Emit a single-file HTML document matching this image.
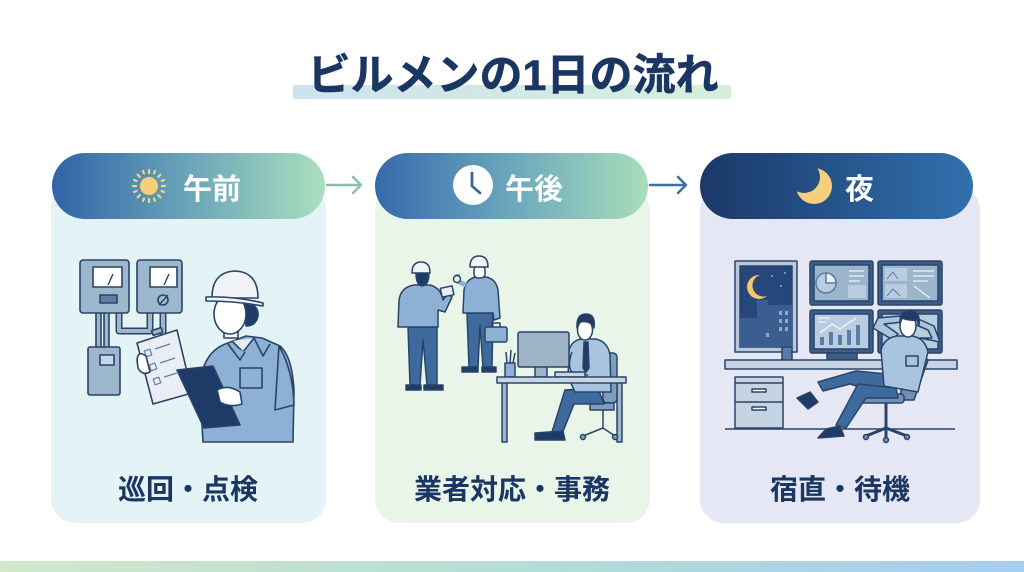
<!DOCTYPE html>
<html><head><meta charset="utf-8"><style>
html,body{margin:0;padding:0;background:#fff;}
svg{display:block;}
text{font-family:"Liberation Sans","Noto Sans CJK JP",sans-serif;font-weight:bold;}
</style></head><body>
<svg width="1024" height="572" viewBox="0 0 1024 572" xmlns="http://www.w3.org/2000/svg">
<defs>
<linearGradient id="hl" x1="0" x2="1"><stop offset="0" stop-color="#cde2ef"/><stop offset="1" stop-color="#d7efd9"/></linearGradient>
<linearGradient id="g1" x1="0" x2="1"><stop offset="0" stop-color="#2f64a7"/><stop offset="0.5" stop-color="#6aa5b9"/><stop offset="1" stop-color="#abdfbd"/></linearGradient>
<linearGradient id="g2" x1="0" x2="1"><stop offset="0" stop-color="#3669ac"/><stop offset="0.5" stop-color="#6ba8bc"/><stop offset="1" stop-color="#a9ddbb"/></linearGradient>
<linearGradient id="g3" x1="0" x2="1"><stop offset="0" stop-color="#1b3868"/><stop offset="1" stop-color="#3170ae"/></linearGradient>
<linearGradient id="bb" x1="0" x2="1"><stop offset="0" stop-color="#cfe9c9"/><stop offset="0.5" stop-color="#b6dcd6"/><stop offset="1" stop-color="#a6cdef"/></linearGradient>
<mask id="mm">
<rect x="780" y="150" width="70" height="70" fill="#fff"/>
<circle cx="804" cy="177" r="16" fill="#000"/>
</mask>
</defs>
<rect width="1024" height="572" fill="#fff"/>
<!-- title -->
<rect x="293" y="85" width="438" height="14" rx="2" fill="url(#hl)"/>
<text x="513" y="90" font-size="43" fill="#1b3662" text-anchor="middle" stroke="#1b3662" stroke-width="0.6">ビルメンの1日の流れ</text>

<!-- card bodies -->
<rect x="51" y="186" width="275" height="337" rx="24" fill="#e4f3f5"/>
<rect x="375" y="186" width="275" height="337" rx="24" fill="#e9f5e8"/>
<rect x="700" y="186" width="280" height="337" rx="24" fill="#e5e8f4"/>

<!-- header pills -->
<rect x="52" y="153" width="273" height="66" rx="33" fill="url(#g1)"/>
<rect x="375" y="153" width="273" height="66" rx="33" fill="url(#g2)"/>
<rect x="700" y="153" width="273" height="66" rx="33" fill="url(#g3)"/>

<!-- arrows -->
<g fill="none" stroke-width="2.5" stroke-linecap="round" stroke-linejoin="round">
<path d="M327 185 H361 M353 177 L361 185 L353 193" stroke="#8dbcb2"/>
<path d="M650 185 H686 M678 177 L686 185 L678 193" stroke="#416fa3"/>
</g>

<!-- sun icon -->
<g>
<circle cx="149" cy="186" r="9" fill="#f6cf78"/>
<g stroke="#f1d38c" stroke-width="2.2" stroke-linecap="round">
<line x1="149" y1="170" x2="149" y2="173"/><line x1="149" y1="199" x2="149" y2="202"/>
<line x1="133" y1="186" x2="136" y2="186"/><line x1="162" y1="186" x2="165" y2="186"/>
<line x1="137.7" y1="174.7" x2="139.8" y2="176.8"/><line x1="158.2" y1="195.2" x2="160.3" y2="197.3"/>
<line x1="160.3" y1="174.7" x2="158.2" y2="176.8"/><line x1="139.8" y1="195.2" x2="137.7" y2="197.3"/>
<line x1="143" y1="171" x2="144" y2="173.5"/><line x1="155" y1="171" x2="154" y2="173.5"/>
<line x1="143" y1="201" x2="144" y2="198.5"/><line x1="155" y1="201" x2="154" y2="198.5"/>
<line x1="134" y1="180" x2="136.5" y2="181"/><line x1="134" y1="192" x2="136.5" y2="191"/>
<line x1="164" y1="180" x2="161.5" y2="181"/><line x1="164" y1="192" x2="161.5" y2="191"/>
</g>
</g>
<text x="183" y="199" font-size="29" fill="#fff">午前</text>

<!-- clock icon -->
<circle cx="473" cy="185" r="20" fill="#fff"/>
<path d="M472 173 V186 L480 193" fill="none" stroke="#3b6896" stroke-width="2.8" stroke-linecap="round" stroke-linejoin="round"/>
<text x="505" y="199" font-size="29" fill="#fff">午後</text>

<!-- moon icon -->
<circle cx="814" cy="186" r="18" fill="#f5cf7c" mask="url(#mm)"/>
<text x="845" y="199" font-size="29" fill="#fff">夜</text>

<!-- ===== card 1 illustration ===== -->
<g stroke="#2a4468" stroke-width="1.6" stroke-linejoin="round">
<path d="M119 312 V331 H150 V312" fill="none" stroke="#2a4468" stroke-width="7"/>
<path d="M119 312 V331 H150 V312" fill="none" stroke="#9db7cd" stroke-width="4"/>
<path d="M163 312 V346" fill="none" stroke="#2a4468" stroke-width="7"/>
<path d="M163 312 V346" fill="none" stroke="#9db7cd" stroke-width="4"/>
<rect x="96" y="312" width="5" height="36" fill="#9db7cd"/>
<rect x="104" y="312" width="5" height="36" fill="#9db7cd"/>
<rect x="80" y="260" width="49" height="53" rx="3" fill="#9db7cd"/>
<rect x="93" y="267" width="29" height="20" fill="#fff"/>
<line x1="108" y1="285" x2="113" y2="274" stroke-width="1.4"/>
<rect x="100" y="295" width="17" height="8" fill="#5d7fa6"/>
<rect x="137" y="260" width="45" height="53" rx="3" fill="#9db7cd"/>
<rect x="150" y="267" width="27" height="20" fill="#fff"/>
<line x1="164" y1="285" x2="169" y2="274" stroke-width="1.4"/>
<circle cx="163" cy="300" r="5" fill="#9db7cd"/>
<line x1="159" y1="305" x2="168" y2="295" stroke-width="1.4"/>
<rect x="88" y="347" width="32" height="48" rx="2" fill="#9db7cd"/>
<rect x="100" y="355" width="14" height="10" fill="#c8d8e6"/>
<!-- worker torso -->
<path d="M203 442 L200 392 Q200 352 228 343 L246 336 L262 338 L280 346 Q292 356 294 390 L293 442 Z" fill="#8db0d5"/>
<path d="M232 341 L243 352 L254 338" fill="#e9eef5"/>
<path d="M228 344 L240 360 L245 352 M254 338 L263 356 L270 344" fill="#8db0d5"/>
<rect x="240" y="368" width="22" height="20" fill="#8db0d5"/>
<path d="M279 346 Q293 370 294 405 L275 410 Z" fill="#8db0d5"/>
<!-- head -->
<rect x="224" y="326" width="14" height="12" fill="#fff"/>
<path d="M244 302 Q259 304 258 316 Q256 326 246 326 Z" fill="#1f3b66"/>
<ellipse cx="230" cy="314" rx="16" ry="20" fill="#fff"/>
<path d="M212 298 Q212 272 235 271 Q258 272 258 298 Z" fill="#f1f3f7"/>
<path d="M206 297 Q235 296 263 303 L263 306 Q235 301 206 301 Z" fill="#f1f3f7"/>
<!-- white clipboard -->
<path d="M137 343 L177 330 L192 393 L153 404 Z" fill="#e9eef5"/>
<rect x="152" y="329" width="10" height="5" fill="#9db7cd" transform="rotate(-18 157 331)"/>
<g stroke-width="1.2" fill="none" stroke="#5f7fa3">
<rect x="145" y="350" width="6" height="6" transform="rotate(-18 148 353)"/>
<rect x="150" y="364" width="6" height="6" transform="rotate(-18 153 367)"/>
<rect x="154" y="378" width="6" height="6" transform="rotate(-18 157 381)"/>
<line x1="155" y1="349" x2="170" y2="344"/><line x1="160" y1="363" x2="175" y2="358"/><line x1="164" y1="377" x2="177" y2="373"/>
</g>
<path d="M137 360 Q138 350 146 356 L150 372 Q142 376 138 368 Z" fill="#fff"/>
<!-- dark clipboard -->
<path d="M177 370 L213 366 L240 425 L204 428 Z" fill="#1e3a66"/>
<path d="M217 390 Q228 384 240 392 L242 404 Q230 408 220 402 Z" fill="#fff"/>
</g>

<!-- ===== card 2 illustration ===== -->
<g stroke="#2a4468" stroke-width="1.5" stroke-linejoin="round">
<!-- worker A -->
<path d="M408 327 L410 385 L420 385 L423 340 L427 385 L437 385 L437 327 Z" fill="#3f6a9e"/>
<path d="M406 385 H421 V390 H406 Z M424 385 H443 V390 H424 Z" fill="#1f3b66"/>
<path d="M398 327 L399 300 Q401 287 414 285 L430 285 Q441 288 443 300 L448 294 L452 297 L445 312 L438 310 L438 327 Z" fill="#8db0d5"/>
<rect x="441" y="287" width="12" height="9" fill="#e9eef5" transform="rotate(-12 447 291)"/>
<path d="M416 273 Q416 285 422 286 Q429 285 429 273 Z" fill="#1f3b66"/>
<path d="M412 273 Q412 262 421 262 Q430 262 430 273 Z" fill="#f1f3f7"/>
<!-- worker B -->
<path d="M467 313 L469 367 L478 367 L480 325 L483 367 L492 367 L493 313 Z" fill="#3f6a9e"/>
<path d="M462 367 H478 V372 H462 Z M482 367 H496 V372 H482 Z" fill="#1f3b66"/>
<path d="M463 313 L464 290 Q466 279 476 277 L486 277 Q496 279 498 290 L500 318 L494 320 L493 313 Z" fill="#8db0d5"/>
<path d="M466 285 L459 282 L457 274" fill="none" stroke="#8db0d5" stroke-width="5"/>
<circle cx="457" cy="279" r="3.5" fill="#e9eef5"/>
<rect x="474" y="266" width="11" height="12" rx="4" fill="#fff"/>
<path d="M470 267 Q470 256 479 256 Q488 256 488 267 Z" fill="#f1f3f7"/>
<rect x="485" y="327" width="22" height="15" rx="2" fill="#8db0d5"/>
<path d="M492 327 V323 H500 V327" fill="none"/>
<!-- desk -->
<rect x="502" y="382" width="5" height="60" fill="#9fb5ca"/>
<rect x="617" y="382" width="5" height="60" fill="#9fb5ca"/>
<!-- chair -->
<rect x="603" y="353" width="14" height="50" rx="4" fill="#7f9dbd"/>
<path d="M590 403 H614 V410 H590 Z" fill="#7f9dbd"/>
<path d="M603 410 V428 M583 436 L603 428 L615 436" fill="none"/>
<circle cx="583" cy="437" r="2.5" fill="#7f9dbd"/><circle cx="615" cy="437" r="2.5" fill="#7f9dbd"/>
<!-- office worker -->
<path d="M598 388 L565 390 L552 432 L562 434 L574 404 L604 404 Z" fill="#3f6a9e"/>
<path d="M535 433 L563 431 L565 440 L535 440 Z" fill="#1f3b66"/>
<path d="M568 377 L569 350 Q572 340 582 339 L596 339 Q608 342 610 355 L611 392 L575 392 Z" fill="#a9c4de"/>
<path d="M584 342 L588 342 L589 368 L586 372 L583 368 Z" fill="#1f3b66"/>
<path d="M572 352 Q566 368 574 374 L588 375" fill="none" stroke="#2a4468"/>
<ellipse cx="585" cy="330" rx="7.5" ry="10" fill="#fff"/>
<path d="M577 328 Q576 314 586 314 Q596 314 594 328 Q591 320 580 322 Z" fill="#1f3b66"/>
<!-- monitor -->
<rect x="535" y="360" width="12" height="17" fill="#9fb3c6"/>
<rect x="518" y="332" width="51" height="35" rx="2" fill="#9fb3c6"/>
<rect x="555" y="372" width="30" height="5" fill="#c8d6e4"/>
<!-- pen cup -->
<path d="M507 363 L506 352 M510 363 L511 350 M513 363 L515 353" fill="none"/>
<rect x="505" y="363" width="10" height="14" fill="#8db0d5"/>
<rect x="497" y="377" width="129" height="6" fill="#c8d6e4"/>
</g>

<!-- ===== card 3 illustration ===== -->
<g stroke="#2a4468" stroke-width="1.5" stroke-linejoin="round">
<!-- night window -->
<rect x="735" y="261" width="62" height="91" fill="#b8c8da"/>
<rect x="740" y="266" width="52" height="81" fill="#27477a"/>
<path d="M740 318 H757 V300 H768 V305 H792 V347 H740 Z" fill="#3b5e90" stroke="none"/>
<g fill="#8fa9c8" stroke="none">
<rect x="779" y="311" width="3" height="4"/><rect x="785" y="311" width="3" height="4"/>
<rect x="779" y="319" width="3" height="4"/><rect x="785" y="319" width="3" height="4"/>
<rect x="779" y="327" width="3" height="4"/><rect x="785" y="327" width="3" height="4"/>
<rect x="766" y="333" width="3" height="4"/>
<circle cx="772" cy="276" r="1"/><circle cx="785" cy="273" r="1"/><circle cx="781" cy="286" r="1"/>
</g>
<path d="M760 275 A12 12 0 1 0 767 296 A10 10 0 0 1 760 275 Z" fill="#f1c86a" stroke="none"/>
<rect x="782" y="347" width="10" height="14" fill="#5a7cab"/>
<!-- monitors -->
<rect x="810" y="261" width="63" height="44" rx="2" fill="#3b5d8c"/>
<rect x="814" y="265" width="55" height="36" fill="#9cb4cc"/>
<circle cx="826" cy="283" r="10" fill="#b9cce0" stroke="#5a7cab"/>
<path d="M826 283 V273 A10 10 0 0 1 836 283 Z" fill="#eef3f8" stroke="#5a7cab"/>
<rect x="848" y="285" width="18" height="13" fill="#b9cce0" stroke="none"/>
<path d="M849 271 H864 M849 276 H864 M849 281 H860" stroke="#eef3f8" stroke-width="1.2"/>
<rect x="878" y="261" width="64" height="44" rx="2" fill="#3b5d8c"/>
<rect x="882" y="265" width="56" height="36" fill="#9cb4cc"/>
<rect x="885" y="268" width="22" height="13" fill="#b9cce0" stroke="none"/>
<rect x="885" y="284" width="22" height="14" fill="#b9cce0" stroke="none"/>
<path d="M887 279 L893 272 L898 279 M887 296 L893 289 L900 296" fill="none" stroke="#5a7cab" stroke-width="1"/>
<path d="M913 271 H934 M913 276 H934 M913 281 H928 M914 286 L930 298" stroke="#eef3f8" stroke-width="1.2"/>
<rect x="810" y="310" width="63" height="43" rx="2" fill="#3b5d8c"/>
<rect x="814" y="314" width="55" height="35" fill="#b9cce0"/>
<g fill="#5a7cab" stroke="none">
<rect x="820" y="337" width="4" height="8"/><rect x="829" y="332" width="4" height="13"/>
<rect x="838" y="335" width="4" height="10"/><rect x="847" y="330" width="4" height="15"/><rect x="856" y="325" width="4" height="20"/>
</g>
<path d="M820 333 L832 324 L840 329 L856 318" fill="none" stroke="#eef3f8" stroke-width="1.5"/>
<path d="M818 318 H830 M818 322 H826" stroke="#eef3f8" stroke-width="1.2"/>
<rect x="827" y="353" width="30" height="7" fill="#3b5d8c"/>
<rect x="878" y="310" width="64" height="43" rx="2" fill="#3b5d8c"/>
<rect x="882" y="314" width="56" height="35" fill="#b9cce0"/>
<!-- desk counter -->
<rect x="725" y="360" width="232" height="9" fill="#c5d3e2"/>
<rect x="735" y="377" width="48" height="51" fill="#c5d3e2"/>
<line x1="735" y1="383" x2="783" y2="383"/>
<line x1="735" y1="402" x2="783" y2="402"/>
<rect x="752" y="389" width="14" height="3" fill="#fff"/>
<rect x="752" y="407" width="14" height="3" fill="#fff"/>
<line x1="725" y1="429" x2="955" y2="429"/>
<!-- chair -->
<path d="M904 362 L920 353 L928 360 L914 400 L900 400 Z" fill="#6f8fb5"/>
<rect x="860" y="394" width="44" height="9" rx="3" fill="#6f8fb5"/>
<path d="M886 403 V428 M866 436 L886 428 L907 436 M886 428 V438" fill="none" stroke-width="3"/>
<circle cx="866" cy="437" r="2.5" fill="#6f8fb5"/><circle cx="907" cy="437" r="2.5" fill="#6f8fb5"/><circle cx="886" cy="440" r="2.5" fill="#6f8fb5"/>
<!-- man -->
<path d="M898 375 L856 371 L818 382 L823 391 L850 384 L880 393 Z" fill="#3f6a9e"/>
<path d="M896 388 L858 384 L836 425 L846 428 L866 398 L898 398 Z" fill="#3f6a9e"/>
<path d="M797 398 L810 392 L818 402 L808 409 Z" fill="#1f3b66"/>
<path d="M826 429 L840 426 L844 436 L818 438 Z" fill="#1f3b66"/>
<path d="M893 340 L873 328 L878 318 L900 316 L902 322 L884 324 L898 334 Z" fill="#a9c4de"/>
<path d="M920 338 L940 342 L934 326 L916 318 L914 324 L928 330 L932 338 Z" fill="#a9c4de"/>
<path d="M884 386 L881 350 Q884 338 897 336 L912 336 Q925 338 928 352 L918 392 Z" fill="#a9c4de"/>
<rect x="906" y="356" width="12" height="10" fill="#a9c4de"/>
<ellipse cx="908" cy="326" rx="8" ry="11" fill="#fff"/>
<path d="M900 324 Q899 310 910 310 Q921 311 919 326 L917 320 Q908 321 902 318 Z" fill="#1f3b66"/>
</g>

<!-- labels -->
<text x="188" y="499" font-size="28" fill="#1b3662" text-anchor="middle">巡回・点検</text>
<text x="512" y="499" font-size="28" fill="#1b3662" text-anchor="middle">業者対応・事務</text>
<text x="840" y="499" font-size="28" fill="#1b3662" text-anchor="middle">宿直・待機</text>

<!-- bottom bar -->
<rect x="0" y="561" width="1024" height="11" fill="url(#bb)"/>
</svg>
</body></html>
